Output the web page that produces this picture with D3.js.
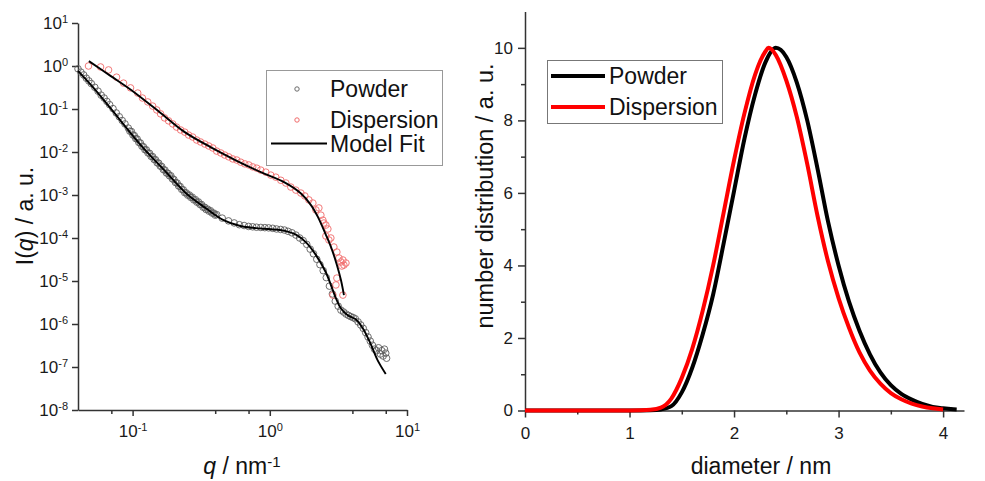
<!DOCTYPE html>
<html><head><meta charset="utf-8">
<script src="https://cdn.jsdelivr.net/npm/d3@7"></script>
<style>body{margin:0;background:#fff}svg{display:block;font-family:"Liberation Sans",Arial,sans-serif}</style>
</head><body><svg id="c" width="985" height="481"></svg>
<script>
// ---- Left panel: SAXS data ----
const powderQ = [0.040,0.042,0.044,0.046,0.048,0.050,0.053,0.056,0.059,0.062,0.065,0.068,0.072,0.076,0.080,0.084,0.088,0.093,0.098,0.103,0.108,0.114,0.120,0.126,0.133,0.140,0.147,0.155,0.163,0.172,0.181,0.190,0.200,0.211,0.222,0.234,0.246,0.259,0.272,0.287,0.302,0.318,0.335,0.352,0.370,0.390,0.410,0.45,0.50,0.55,0.60,0.65,0.70,0.75,0.80,0.86,0.92,0.98,1.05,1.12,1.20,1.28,1.36,1.45,1.55,1.65,1.75,1.86,1.97,2.08,2.20,2.32,2.45,2.58,2.72,2.86,3.00,3.15,3.30,3.45,3.60,3.75,3.90,4.05,4.20,4.40,4.60,4.80,5.00,5.20,5.40,5.60,5.80,6.00,6.20,6.40,6.55,6.70,6.85,7.00,7.10];
const powderI = [0.86,0.72,0.62,0.52,0.45,0.39,0.32,0.26,0.21,0.18,0.15,0.126,0.102,0.081,0.066,0.054,0.045,0.036,0.030,0.024,0.020,0.0162,0.0132,0.0112,0.0093,0.0078,0.0066,0.0055,0.0046,0.0038,0.0032,0.0028,0.0023,0.0019,0.00158,0.00132,0.00112,0.00100,0.00089,0.00078,0.00069,0.00060,0.00052,0.00047,0.00043,0.00038,0.00035,0.00029,0.00025,0.000224,0.000204,0.000195,0.000186,0.000182,0.000178,0.000176,0.000174,0.000172,0.000168,0.000162,0.000158,0.000153,0.000143,0.000132,0.000117,0.000100,0.000087,7.1e-5,5.5e-5,4.3e-5,3.2e-5,2.4e-5,1.74e-5,1.2e-5,7.6e-6,5.0e-6,3.4e-6,2.6e-6,2.1e-6,1.9e-6,1.7e-6,1.58e-6,1.48e-6,1.41e-6,1.32e-6,1.12e-6,9.5e-7,7.9e-7,6.3e-7,5.0e-7,4.0e-7,3.2e-7,2.6e-7,2.4e-7,2.8e-7,2.0e-7,2.4e-7,1.8e-7,2.6e-7,2.1e-7,1.6e-7];
// lower edge of the dense powder band (second run)
const powderQ2 = [0.0955,0.1005,0.1055,0.111,0.117,0.123,0.1295,0.1365,0.1435,0.151,0.159,0.1675,0.1765,0.1855,0.195,0.2055,0.2165,0.228,0.240,0.2525,0.2655,0.2795,0.2945,0.310,0.3265,0.3435,0.361,0.380,0.400];
const powderI2 = [0.0305,0.025,0.0205,0.0167,0.0136,0.0113,0.0095,0.0079,0.0067,0.0056,0.0047,0.0039,0.00325,0.0028,0.00237,0.00195,0.00162,0.00135,0.00113,0.00099,0.00088,0.00077,0.00068,0.0006,0.00052,0.00046,0.00042,0.00038,0.00034];
const dispQ = [0.0477,0.0584,0.0668,0.0764,0.0859,0.0966,0.109,0.118,0.129,0.140,0.150,0.160,0.171,0.183,0.196,0.209,0.224,0.240,0.256,0.274,0.293,0.313,0.336,0.359,0.384,0.410,0.439,0.469,0.502,0.537,0.574,0.614,0.657,0.703,0.751,0.804,0.859,0.935,1.017,1.106,1.203,1.309,1.423,1.548,1.684,1.801,1.926,2.060,2.167,2.279,2.357,2.437,2.478,2.563,2.650,2.563,2.786,2.697,2.931,3.083,3.190,3.299,3.411,3.469,3.589,3.354,3.083,3.033,2.884,3.411];
const dispI = [1.0,0.95,0.81,0.55,0.40,0.31,0.235,0.18,0.146,0.117,0.095,0.077,0.062,0.053,0.045,0.038,0.0325,0.029,0.0248,0.0223,0.019,0.0171,0.0153,0.0138,0.0124,0.0105,0.0095,0.0085,0.0077,0.0069,0.0065,0.0058,0.0053,0.0050,0.0045,0.0042,0.0038,0.0034,0.0029,0.0026,0.0022,0.0019,0.00153,0.0013,0.00111,0.00095,0.00077,0.00065,0.00045,0.0005,0.00034,0.00026,0.000223,0.0002,0.000162,0.000111,0.0001,8.98e-5,6.18e-5,4.72e-5,3.43e-5,2.77e-5,3.08e-5,2.35e-5,2.62e-5,2.23e-5,1.17e-5,8.1e-6,4.7e-6,4.7e-6];
const powderFitQ = [0.040,0.051,0.068,0.118,0.17,0.245,0.34,0.46,0.61,0.79,1.02,1.31,1.55,1.83,2.17,2.56,3.03,3.3,3.7,4.2,4.76,5.4,6.1,7.0];
const powderFitI = [0.77,0.33,0.11,0.013,0.0038,0.0011,5.0e-4,2.6e-4,1.9e-4,1.7e-4,1.6e-4,1.45e-4,1.2e-4,8e-5,4e-5,1.6e-5,4e-6,2.3e-6,1.6e-6,1.3e-6,8e-7,3.6e-7,1.45e-7,6.9e-8];
const dispFitQ = [0.048,0.069,0.097,0.16,0.24,0.37,0.56,0.86,1.27,1.68,1.99,2.24,2.56,2.79,3.08,3.3,3.47];
const dispFitI = [1.3,0.59,0.28,0.081,0.029,0.013,6.5e-3,3.4e-3,2.0e-3,1.1e-3,5.9e-4,3.1e-4,1.2e-4,6.2e-5,2.4e-5,1.05e-5,4.7e-6];
const qMajorTicks = [0.1,1,10];
const qMinorTicks = [0.07,0.4,0.7,4,7];
const iTicks = [1e-8,1e-7,1e-6,1e-5,1e-4,1e-3,1e-2,1e-1,1,10];
const leftLegend = ["Powder","Dispersion","Model Fit"];

// ---- Right panel: size distribution ----
const powderD = [0,0.5,1.0,1.1,1.2,1.3,1.4,1.5,1.6,1.7,1.8,1.9,2.0,2.1,2.2,2.3,2.4,2.5,2.6,2.7,2.8,2.9,3.0,3.1,3.2,3.3,3.4,3.5,3.6,3.7,3.8,3.9,4.0,4.1,4.13];
const powderN = [0,0,0,0.001,0.005,0.03,0.12,0.5,1.18,2.1,3.2,4.6,6.05,7.5,8.7,9.6,10.0,9.75,9.05,8.0,6.65,5.2,4.0,3.0,2.2,1.55,1.05,0.7,0.46,0.3,0.18,0.1,0.06,0.035,0.03];
const dispD = [0,0.5,1.0,1.1,1.2,1.3,1.4,1.5,1.6,1.7,1.8,1.9,2.0,2.1,2.2,2.3,2.33,2.4,2.5,2.6,2.7,2.8,2.9,3.0,3.1,3.2,3.3,3.4,3.5,3.6,3.7,3.8,3.9,4.0];
const dispN = [0,0,0.002,0.006,0.02,0.08,0.33,0.9,1.7,2.75,4.0,5.45,6.9,8.2,9.25,9.9,10.0,9.8,9.1,8.1,6.8,5.35,4.1,3.1,2.28,1.6,1.1,0.74,0.48,0.31,0.19,0.11,0.06,0.03];
const dTicks = [0,1,2,3,4];
const dMinor = [0.5,1.5,2.5,3.5];
const nTicks = [0,2,4,6,8,10];
const nMinor = [1,3,5,7,9];
const rightLegend = ["Powder","Dispersion"];

const svg = d3.select("#c");
const AX = "#333";
const styleAxis = g => {
  g.select(".domain").attr("stroke", AX).attr("stroke-width", 1.5);
  g.selectAll(".tick line").attr("stroke", AX).attr("stroke-width", 1.5);
  g.selectAll(".tick text").attr("fill", "#1a1a1a").attr("font-size", 17).attr("font-family", '"Liberation Sans",Arial,sans-serif');
};
const powLabels = g => g.selectAll(".tick text").each(function(d){
  const e = Math.round(Math.log10(d));
  const t = d3.select(this).text("");
  t.append("tspan").text("10");
  t.append("tspan").attr("dy", "-0.55em").attr("font-size", 11).text(e);
});

// Left scales
const xL = d3.scaleLog().domain([0.04, 10]).range([78, 407]);
const yL = d3.scaleLog().domain([1e-8, 10]).range([410, 23]);

svg.append("g").attr("transform", "translate(0,410)")
  .call(d3.axisBottom(xL).tickValues(qMinorTicks).tickSize(4).tickFormat(""))
  .call(styleAxis).call(g => g.select(".domain").remove());
svg.append("g").attr("transform", "translate(0,410)")
  .call(d3.axisBottom(xL).tickValues(qMajorTicks).tickSize(6).tickSizeOuter(0).tickPadding(9))
  .call(styleAxis).call(powLabels);
svg.append("g").attr("transform", "translate(78,0)")
  .call(d3.axisLeft(yL).tickValues(iTicks).tickSize(6).tickSizeOuter(0).tickPadding(4))
  .call(styleAxis).call(powLabels);

const pts = (qs, is) => qs.map((q, i) => [q, is[i]]);
const lineL = d3.line().x(d => xL(d[0])).y(d => yL(d[1])).curve(d3.curveCatmullRom.alpha(0.5));

svg.append("g").selectAll("circle").data(pts(powderQ, powderI).concat(pts(powderQ2, powderI2))).join("circle")
  .attr("cx", d => xL(d[0])).attr("cy", d => yL(d[1])).attr("r", 3.3)
  .attr("fill", "none").attr("stroke", "#5e5e5e").attr("stroke-width", 0.9);
svg.append("g").selectAll("circle").data(pts(dispQ, dispI)).join("circle")
  .attr("cx", d => xL(d[0])).attr("cy", d => yL(d[1])).attr("r", 3.3)
  .attr("fill", "none").attr("stroke", "#f06a6a").attr("stroke-width", 0.9);
svg.append("path").datum(pts(powderFitQ, powderFitI)).attr("d", lineL)
  .attr("fill", "none").attr("stroke", "#000").attr("stroke-width", 1.9);
svg.append("path").datum(pts(dispFitQ, dispFitI)).attr("d", lineL)
  .attr("fill", "none").attr("stroke", "#000").attr("stroke-width", 1.9);

// Left legend
const lg = svg.append("g");
lg.append("rect").attr("x", 266.5).attr("y", 70.5).attr("width", 176).attr("height", 95)
  .attr("fill", "#fff").attr("stroke", "#999").attr("stroke-width", 1);
lg.append("circle").attr("cx", 297).attr("cy", 89).attr("r", 2.2).attr("fill", "none").attr("stroke", "#6a6a6a");
lg.append("circle").attr("cx", 297).attr("cy", 120).attr("r", 2.2).attr("fill", "none").attr("stroke", "#f06a6a");
lg.append("line").attr("x1", 271).attr("x2", 327).attr("y1", 143.5).attr("y2", 143.5).attr("stroke", "#000").attr("stroke-width", 1.9);
lg.selectAll("text").data(leftLegend).join("text")
  .attr("x", 330).attr("y", (d, i) => [97, 128, 152][i])
  .attr("font-size", 23).attr("fill", "#111").text(d => d);

// Left axis titles
const tx = svg.append("text").attr("x", 242).attr("y", 474).attr("text-anchor", "middle").attr("font-size", 23).attr("fill", "#111");
tx.append("tspan").attr("font-style", "italic").text("q");
tx.append("tspan").text(" / nm");
tx.append("tspan").attr("dy", "-0.5em").attr("font-size", 15).text("-1");
const ty = svg.append("text").attr("transform", "translate(33,216) rotate(-90)").attr("text-anchor", "middle").attr("font-size", 23).attr("fill", "#111");
ty.append("tspan").text("I(");
ty.append("tspan").attr("font-style", "italic").text("q");
ty.append("tspan").text(") / a. u.");

// Right scales
const xR = d3.scaleLinear().domain([0, 4.2]).range([525, 964]);
const yR = d3.scaleLinear().domain([0, 11]).range([410.5, 11.6]);

svg.append("g").attr("transform", "translate(0,410.5)")
  .call(d3.axisBottom(xR).tickValues(dMinor).tickSize(4).tickFormat(""))
  .call(styleAxis).call(g => g.select(".domain").remove());
svg.append("g").attr("transform", "translate(0,410.5)")
  .call(d3.axisBottom(xR).tickValues(dTicks).tickSize(7).tickSizeOuter(0).tickPadding(9).tickFormat(d3.format("d")))
  .call(styleAxis);
svg.append("g").attr("transform", "translate(525,0)")
  .call(d3.axisLeft(yR).tickValues(nMinor).tickSize(4).tickFormat(""))
  .call(styleAxis).call(g => g.select(".domain").remove());
svg.append("g").attr("transform", "translate(525,0)")
  .call(d3.axisLeft(yR).tickValues(nTicks).tickSize(7).tickSizeOuter(0).tickPadding(5).tickFormat(d3.format("d")))
  .call(styleAxis);

const lineR = d3.line().x(d => xR(d[0])).y(d => yR(d[1])).curve(d3.curveMonotoneX);
svg.append("path").datum(pts(powderD, powderN)).attr("d", lineR)
  .attr("fill", "none").attr("stroke", "#000").attr("stroke-width", 4);
svg.append("path").datum(pts(dispD, dispN)).attr("d", lineR)
  .attr("fill", "none").attr("stroke", "#f00").attr("stroke-width", 4);

// Right legend
const rg = svg.append("g");
rg.append("rect").attr("x", 547.5).attr("y", 60.5).attr("width", 175).attr("height", 63)
  .attr("fill", "#fff").attr("stroke", "#777").attr("stroke-width", 1);
rg.selectAll("line").data(rightLegend).join("line")
  .attr("x1", 551).attr("x2", 605).attr("y1", (d, i) => 76 + i * 31).attr("y2", (d, i) => 76 + i * 31)
  .attr("stroke", (d, i) => i ? "#f00" : "#000").attr("stroke-width", 4);
rg.selectAll("text").data(rightLegend).join("text")
  .attr("x", 609).attr("y", (d, i) => 84 + i * 31).attr("font-size", 23).attr("fill", "#111").text(d => d);

svg.append("text").attr("x", 761).attr("y", 474).attr("text-anchor", "middle").attr("font-size", 23).attr("fill", "#111").text("diameter / nm");
svg.append("text").attr("transform", "translate(493,196) rotate(-90)").attr("text-anchor", "middle").attr("font-size", 23.5).attr("fill", "#111").text("number distribution / a. u.");
</script></body></html>
